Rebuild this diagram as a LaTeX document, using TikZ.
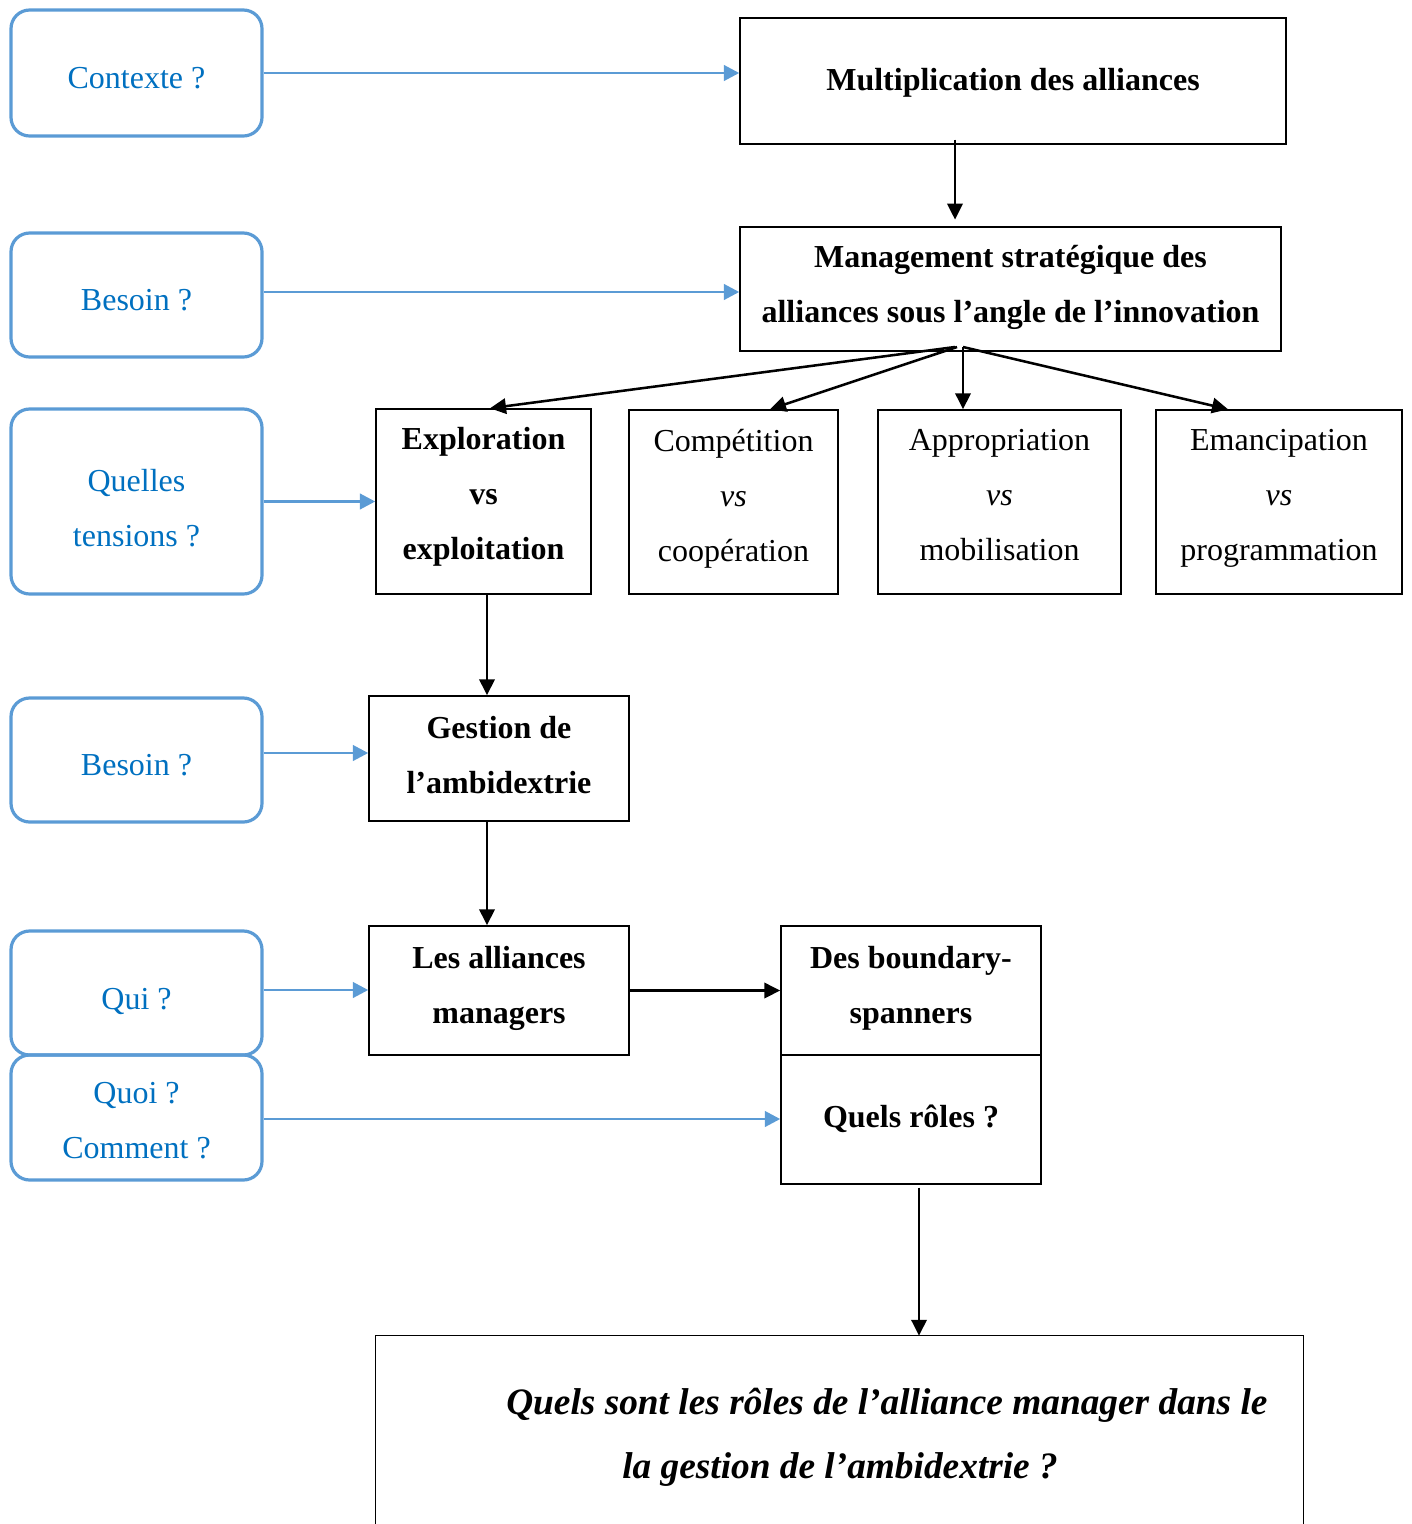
\documentclass[tikz,border=0pt]{standalone}
\usepackage{fontspec}
\setmainfont{Liberation Serif}
\usetikzlibrary{arrows.meta,calc}
\definecolor{bluetxt}{HTML}{0070C0}
\definecolor{blueln}{HTML}{5B9BD5}
\begin{document}
\begin{tikzpicture}[x=0.75pt,y=-0.75pt,
  sz/.style 2 args={minimum width={#1*0.75pt}, minimum height={#2*0.75pt}},
  tpos/.style 2 args={execute at begin node={\rule{0pt}{#1pt}}, execute at end node={\rule[-#2pt]{0pt}{#2pt}}},
  qbox/.style={draw=blueln, line width=2.4pt, rounded corners=14pt, text=bluetxt, align=center, font=\fontsize{24}{41.25}\selectfont, inner sep=0pt},
  bbox/.style={draw=black, line width=1.1pt, align=center, font=\fontsize{24}{41.25}\selectfont\bfseries, inner sep=0pt},
  nbox/.style={bbox, font=\fontsize{24}{41.25}\selectfont},
  barr/.style={draw=blueln, line width=2.2pt, -{Triangle[length=11.5pt,width=11.5pt]}},
  karr/.style={draw=black, line width=1.9pt, -{Triangle[length=12pt,width=11.5pt]}},
]
\useasboundingbox (0,0) rectangle (1411,1524);

% question boxes
\node[qbox, sz={251}{126}, tpos={29.8}{7}] (ctx) at (136.5,73) {Contexte ?};
\node[qbox, sz={251}{124}, tpos={30.5}{7}] (bes1) at (136.5,295) {Besoin ?};
\node[qbox, sz={251}{185}, tpos={74}{7}] (qt) at (136.5,501.5) {Quelles\\tensions ?};
\node[qbox, sz={251}{124}, tpos={30.5}{7}] (bes2) at (136.5,760) {Besoin ?};
\node[qbox, sz={251}{124}, tpos={31.7}{7}] (qui) at (136.5,993) {Qui ?};
\node[qbox, sz={251}{125}, tpos={68}{7}] (quoi) at (136.5,1117.5) {Quoi ?\\Comment ?};

% main boxes
\node[bbox, sz={546}{126}, tpos={23}{8.5}] (mult) at (1013,81) {Multiplication des alliances};
\node[bbox, sz={541}{124}, tpos={23}{7.3}] (mgmt) at (1010.5,289) {Management stratégique des\\alliances sous l’angle de l’innovation};
\node[bbox, sz={215}{185}, tpos={23}{12.3}] (expl) at (483.5,501.5) {Exploration\\vs\\exploitation};
\node[nbox, sz={209}{184}, tpos={23}{10}] (comp) at (733.5,502) {Compétition\\\textit{vs}\\coopération};
\node[nbox, sz={243}{184}, tpos={23}{10}] (appr) at (999.5,502) {Appropriation\\\textit{vs}\\mobilisation};
\node[nbox, sz={246}{184}, tpos={23}{10}] (eman) at (1279,502) {Emancipation\\\textit{vs}\\programmation};
\node[bbox, sz={260}{125}, tpos={23}{5.5}] (gest) at (499,758.5) {Gestion de\\l’ambidextrie};
\node[bbox, sz={260}{129}, tpos={23}{8.5}] (am) at (499,990.5) {Les alliances\\managers};
\node[bbox, sz={260}{129}, tpos={23}{8.5}] (bs) at (911,990.5) {Des boundary-\\spanners};
\node[bbox, sz={260}{129}, tpos={23}{10.8}] (qr) at (911,1119.5) {Quels rôles ?};
\node[sz={927}{188}, inner sep=0pt] (bot) at (839.5,1430) {};
\node[anchor=west, inner sep=0pt, align=left, font=\fontsize{28}{48}\selectfont\bfseries\itshape] (btxt) at (506,1437)
  {Quels sont les rôles de l’alliance manager dans le\\\hspace*{87pt}la gestion de l’ambidextrie ?};
\draw[line width=1.1pt] (bot.south west) -- (bot.north west) -- (bot.north east) -- (bot.south east);

% blue arrows
\draw[barr] (ctx.east) -- (ctx.east -| mult.west);
\draw[barr] ($(bes1.east)+(0,-3)$) -- ($(bes1.east -| mgmt.west)+(0,-3)$);
\draw[barr] (qt.east) -- (qt.east -| expl.west);
\draw[barr] ($(bes2.east)+(0,-7)$) -- ($(bes2.east -| gest.west)+(0,-7)$);
\draw[barr] ($(qui.east)+(0,-3)$) -- ($(qui.east -| am.west)+(0,-3)$);
\draw[barr] ($(quoi.east)+(0,1.5)$) -- ($(quoi.east -| qr.west)+(0,1.5)$);

% black arrows
\coordinate (hub) at (960,347);
\draw[karr, shorten >=5pt] ($(mult.south)+(-58,-5)$) -- ($(mgmt.north)+(-55.5,0)$);
\draw[karr] ($(hub)+(-5,0)$) -- ($(expl.north)+(6.5,0)$);
\draw[karr] ($(hub)+(-3,0)$) -- ($(comp.north)+(36.5,0)$);
\draw[karr] ($(hub)+(3,0)$) -- ($(appr.north)+(-36.5,0)$);
\draw[karr] ($(hub)+(3,0)$) -- ($(eman.north)+(-51,0)$);
\draw[karr] ($(expl.south)+(3.5,0)$) -- ($(gest.north)+(-12,0)$);
\draw[karr] ($(gest.south)+(-12,0)$) -- ($(am.north)+(-12,0)$);
\draw[karr] (am.east) -- (bs.west);
\draw[karr] ($(qr.south)+(8,3)$) -- ($(bot.north)+(79.5,0)$);
\end{tikzpicture}
\end{document}
